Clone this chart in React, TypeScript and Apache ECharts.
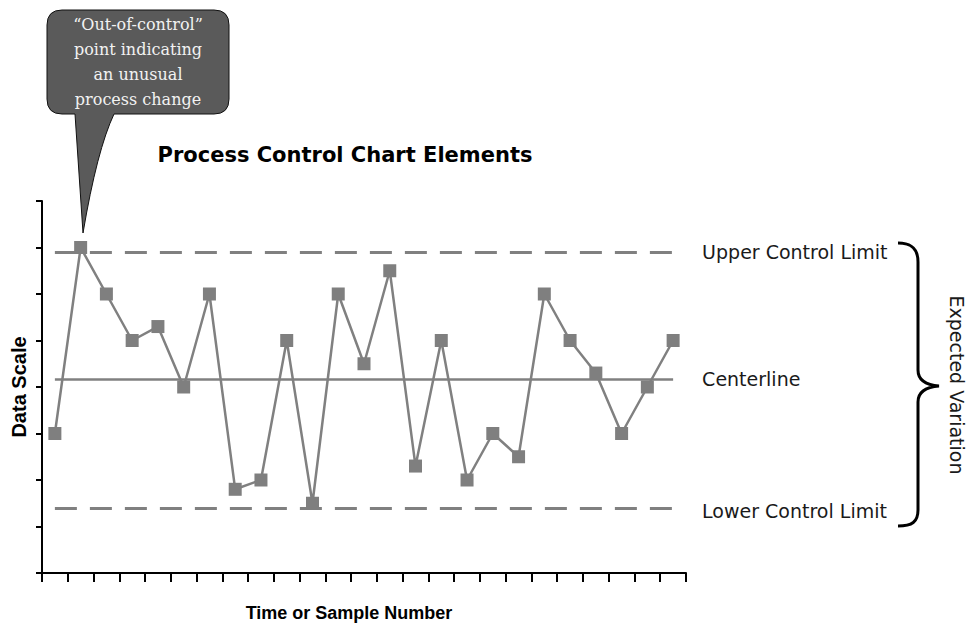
import React, { useEffect, useRef } from "react";
import * as echarts from "echarts";

// ---- data ----
const categories: string[] = Array.from({ length: 25 }, (_, i) => String(i + 1));
const sampleValues: number[] = [3, 7, 6, 5, 5.3, 4, 6, 1.8, 2, 5, 1.5, 6, 4.5, 6.5, 2.3, 5, 2, 3, 2.5, 6, 5, 4.3, 3, 4, 5];
const limitValues: number[] = [6.9, 4.17, 1.4];
const limitLabels: string[] = ["Upper Control Limit", "Centerline", "Lower Control Limit"];
const limitDashed: boolean[] = [true, false, true];
const calloutLines: string[] = ["\u201cOut-of-control\u201d", "point indicating", "an unusual", "process change"];
const titleText = "Process Control Chart Elements";
const yAxisName = "Data Scale";
const xAxisName = "Time or Sample Number";
const braceText = "Expected Variation";

const CALLOUT_D =
  "M 62 10 L 214 10 Q 229 10 229 25 L 229 99 Q 229 114 214 114 L 114 114 Q 97 150 83 233 L 75 114 L 62 114 Q 47 114 47 99 L 47 25 Q 47 10 62 10 Z";
const BRACE_D =
  "M 898 243 C 912 243 918 249 918 262 L 918 370 C 918 380 926 385 939 386 C 926 387 918 392 918 402 L 918 510 C 918 522 912 526 898 526";

let registered = false;
function registerShapes() {
  if (registered) return;
  echarts.graphic.registerShape("callout", echarts.graphic.extendPath(CALLOUT_D, {}));
  echarts.graphic.registerShape("brace", echarts.graphic.extendPath(BRACE_D, {}));
  registered = true;
}

export default function App() {
  const ref = useRef<HTMLDivElement>(null);
  useEffect(() => {
    document.body.style.margin = "0";
    registerShapes();
    const chart = echarts.init(ref.current!, null, { renderer: "svg" });
    const last = categories.length - 1;
    const markData = limitValues.map((v, i) => [
      {
        coord: [categories[0], v],
        lineStyle: {
          color: "#808080",
          width: limitDashed[i] ? 3 : 2.5,
          type: limitDashed[i] ? [22, 13] : "solid",
        },
        label: {
          show: true,
          position: "end",
          distance: 29,
          formatter: limitLabels[i],
          fontFamily: "DejaVu Sans",
          fontSize: 19,
          color: "#1a1a1a",
          offset: i === 2 ? [0, 3] : [0, 0],
        },
      },
      { coord: [categories[last], v] },
    ]);
    chart.setOption({
      animation: false,
      backgroundColor: "#ffffff",
      title: {
        text: titleText,
        left: 345,
        top: 144,
        textAlign: "center",
        padding: 0,
        textStyle: { fontFamily: "DejaVu Sans", fontWeight: "bold", fontSize: 21, color: "#000" },
      },
      grid: { left: 42, right: 283, top: 201, bottom: 59, containLabel: false, outerBoundsMode: "none" },
      xAxis: {
        type: "category",
        data: categories,
        boundaryGap: true,
        name: xAxisName,
        nameLocation: "middle",
        nameGap: 31,
        nameTextStyle: {
          fontFamily: "Liberation Sans",
          fontWeight: "bold",
          fontSize: 18,
          color: "#000",
          padding: [0, 30, 0, 0],
        },
        axisLine: { show: true, lineStyle: { color: "#000", width: 2 } },
        axisTick: { show: true, length: 9, lineStyle: { color: "#000", width: 2 } },
        axisLabel: { show: false },
        splitLine: { show: false },
      },
      yAxis: {
        type: "value",
        min: 0,
        max: 8,
        interval: 1,
        name: yAxisName,
        nameLocation: "middle",
        nameGap: 13,
        nameTextStyle: { fontFamily: "Liberation Sans", fontWeight: "bold", fontSize: 20, color: "#000" },
        axisLine: { show: true, lineStyle: { color: "#000", width: 2 } },
        axisTick: { show: true, length: 6, lineStyle: { color: "#000", width: 2 } },
        axisLabel: { show: false },
        splitLine: { show: false },
      },
      series: [
        {
          type: "line",
          data: sampleValues,
          symbol: "rect",
          symbolSize: 13,
          showSymbol: true,
          lineStyle: { color: "#808080", width: 2.5 },
          itemStyle: { color: "#7f7f7f" },
          z: 3,
          markLine: {
            silent: true,
            symbol: "none",
            z: 2,
            data: markData,
          },
        },
      ],
      graphic: [
        {
          type: "callout",
          x: 0,
          y: 0,
          style: { fill: "#5a5a5a", stroke: "#111", lineWidth: 1 },
          z: 10,
        },
        ...calloutLines.map((t, i) => ({
          type: "text",
          x: 138,
          y: 24 + i * 25,
          z: 11,
          style: {
            text: t,
            fill: "#f2f2f2",
            fontFamily: "DejaVu Serif",
            fontSize: 16,
            textAlign: "center",
            textVerticalAlign: "middle",
          },
        })),
        {
          type: "brace",
          x: 0,
          y: 0,
          style: { fill: "none", stroke: "#000", lineWidth: 3 },
        },
        {
          type: "text",
          x: 957,
          y: 385,
          rotation: -Math.PI / 2,
          style: {
            text: braceText,
            fill: "#1a1a1a",
            fontFamily: "DejaVu Sans",
            fontSize: 19,
            textAlign: "center",
            textVerticalAlign: "middle",
          },
        },
      ],
    });
    return () => chart.dispose();
  }, []);
  return <div ref={ref} style={{ width: 969, height: 632 }} />;
}
